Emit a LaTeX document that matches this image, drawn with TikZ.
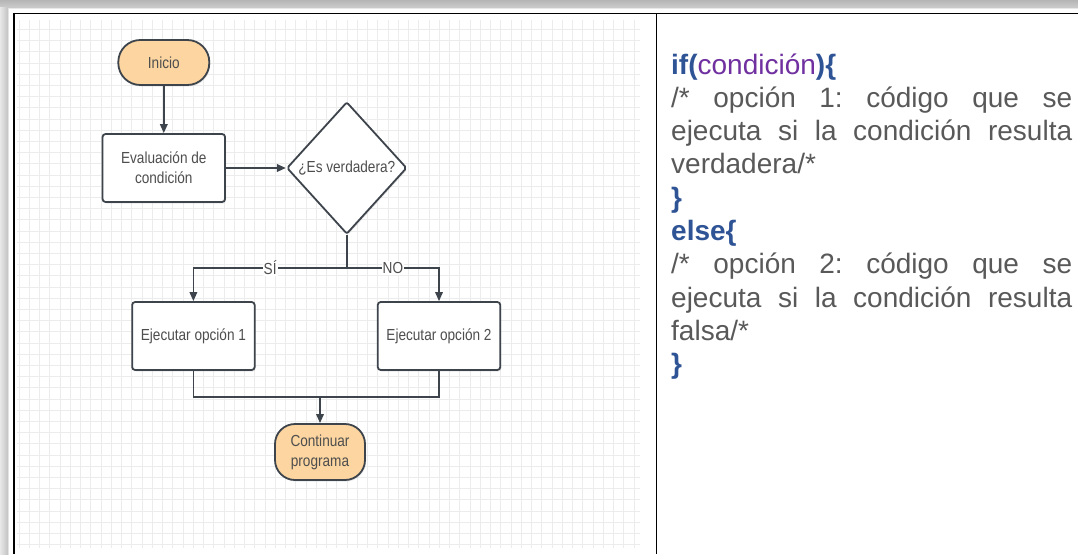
\documentclass[tikz,border=0pt]{standalone}
\usepackage{fontspec}
\setmainfont{Liberation Sans}
\newfontfamily\flowfont[FakeStretch=0.85]{Liberation Sans}
\newfontfamily\codefont{Liberation Sans}
\usetikzlibrary{arrows.meta,shapes.geometric,shadows}
\definecolor{lineC}{RGB}{62,68,76}
\definecolor{textC}{RGB}{78,78,78}
\definecolor{orangeC}{RGB}{252,213,160}
\definecolor{gridC}{RGB}{236,236,236}
\definecolor{blueC}{RGB}{47,84,150}
\definecolor{purpC}{RGB}{112,48,160}
\definecolor{codeC}{RGB}{89,89,89}
\tikzset{
  flow/.style={font=\flowfont\fontsize{16}{20}\selectfont, text=textC},
  shade/.style={drop shadow={opacity=0.18, shadow xshift=1pt, shadow yshift=-1.5pt}},
  startst/.style={flow, draw=lineC, line width=1.8pt, fill=orangeC, shade, align=center, inner sep=0pt},
  procst/.style={flow, draw=lineC, line width=1.8pt, fill=white, rounded corners=3pt, shade, align=center,
    minimum width=122.5pt, minimum height=68pt, inner sep=0pt},
  decst/.style={flow, draw=lineC, line width=1.8pt, fill=white, diamond, rounded corners=2pt, shade,
    minimum width=120pt, minimum height=132pt, inner sep=0pt},
  conn/.style={draw=lineC, line width=1.8pt},
  arr/.style={conn, -{Triangle[length=9pt,width=7.5pt]}},
  lbl/.style={flow, fill=white, inner sep=1pt},
  codeline/.style={anchor=base west, inner sep=0pt, text=codeC, font=\codefont\fontsize{28}{33.3}\selectfont\frenchspacing},
}
\frenchspacing
\begin{document}
\begin{tikzpicture}[x=1pt,y=-1pt]
\useasboundingbox (0,0) rectangle (1078,554);
\fill[white] (0,0) rectangle (1078,554);
% shadow bands
\shade[top color=gray!58, bottom color=gray!42] (0,0) rectangle (1078,7);
\shade[left color=gray!18, right color=gray!48] (0,7) rectangle (8,554);
% grid
\begin{scope}
\clip (17,20) rectangle (640,548);
\foreach \i in {0,...,60} \draw[gridC, line width=0.8pt] (19.05+\i*10.25,20) -- (19.05+\i*10.25,548);
\foreach \j in {0,...,48} \draw[gridC, line width=0.8pt] (17,18.1+\j*11.2) -- (640,18.1+\j*11.2);
\end{scope}
% frame
\draw[black, line width=1.4pt] (14,554) -- (14,13.3) -- (1078,13.3);
\draw[black, line width=1.2pt] (656.7,13.3) -- (656.7,554);

% flowchart nodes
\node[startst, rounded corners=22pt, minimum width=91pt, minimum height=45pt] (inicio) at (163.8,62.5) {Inicio};
\node[procst] (eval) at (163.8,168) {Evaluación de\\condición};
\node[decst] (dia) at (346.8,168) {¿Es verdadera?};
\node[procst] (ej1) at (193.4,336) {Ejecutar opción 1};
\node[procst] (ej2) at (439,336) {Ejecutar opción 2};
\node[startst, rounded corners=20pt, minimum width=90pt, minimum height=56pt] (cont) at (320,452) {Continuar\\programa};

\coordinate (split) at (346.8,268);
\coordinate (jl) at (193.4,397);
\coordinate (jr) at (439,397);
\coordinate (m) at (320,397);

\draw[arr] (inicio) -- (eval);
\draw[arr] (eval) -- (dia);
\draw[conn] (dia.south) -- (split);
\draw[arr] (split) -| node[lbl, pos=0.25] {SÍ} (ej1.north);
\draw[arr] (split) -| node[lbl, pos=0.25] {NO} (ej2.north);
\draw[conn] (ej1.south) -- (jl) -- (jr) -- (ej2.south);
\draw[arr] (m) -- (cont.north);

% code text
\node[codeline] (t1) at (671,74) {{\bfseries\color{blueC}if(}{\color{purpC}condición}{\bfseries\color{blueC})\{}};
\node[codeline] (t2) at (671,107.3) {\makebox[401pt][s]{/* opción 1: código que se}};
\node[codeline] (t3) at (671,140.6) {\makebox[401pt][s]{ejecuta si la condición resulta}};
\node[codeline] (t4) at (671,173.9) {verdadera/*};
\node[codeline] (t5) at (671,207.2) {{\bfseries\color{blueC}\}}};
\node[codeline] (t6) at (671,240.5) {{\bfseries\color{blueC}else\{}};
\node[codeline] (t7) at (671,273.8) {\makebox[401pt][s]{/* opción 2: código que se}};
\node[codeline] (t8) at (671,307.1) {\makebox[401pt][s]{ejecuta si la condición resulta}};
\node[codeline] (t9) at (671,340.4) {falsa/*};
\node[codeline] (t10) at (671,373.7) {{\bfseries\color{blueC}\}}};
\end{tikzpicture}
\end{document}
